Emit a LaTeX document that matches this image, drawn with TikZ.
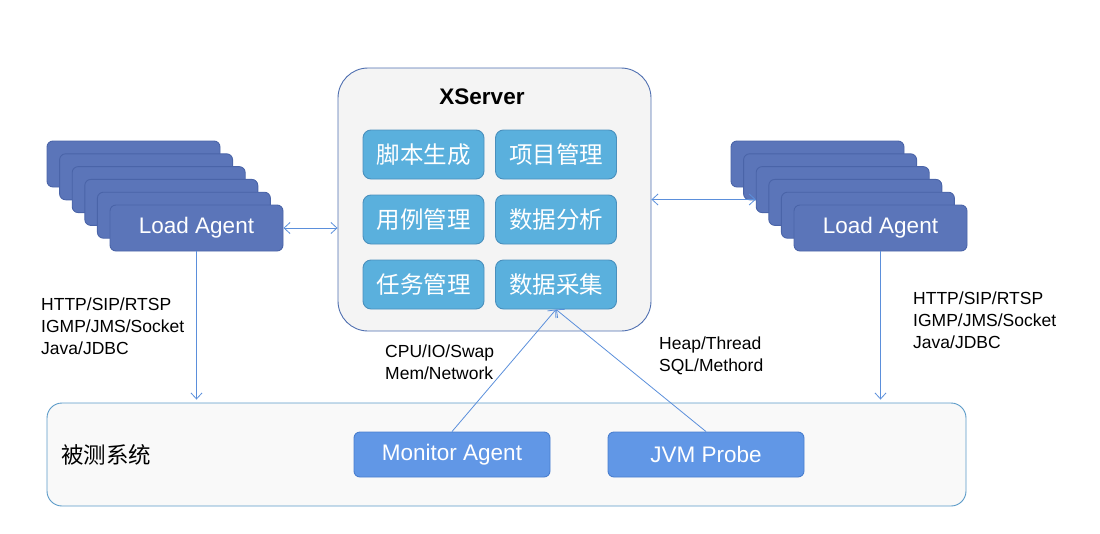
\documentclass[tikz,border=0pt]{standalone}
\usepackage{fontspec}
\setmainfont{Liberation Sans}
\newfontfamily\cjk{Noto Sans CJK SC}
\usetikzlibrary{arrows.meta,positioning}

\definecolor{stackfill}{HTML}{5B75B9}
\definecolor{stackline}{HTML}{4A64A8}
\definecolor{srvfill}{HTML}{F4F4F4}
\definecolor{srvline}{HTML}{4F6FB0}
\definecolor{modfill}{HTML}{5AB0DD}
\definecolor{modline}{HTML}{4A90BD}
\definecolor{sutfill}{HTML}{F9F9F9}
\definecolor{sutline}{HTML}{5A9AC8}
\definecolor{probefill}{HTML}{6197E6}
\definecolor{probeline}{HTML}{4A7FCF}
\definecolor{linkcol}{HTML}{5B8FDB}

\begin{document}
\begin{tikzpicture}[x=1pt, y=-1pt,
  stackbox/.style={draw=stackline, fill=stackfill, line width=0.9pt, rounded corners=6pt, minimum width=173pt, minimum height=46pt, text=white, font=\fontsize{22.5}{26}\selectfont},
  modbox/.style={draw=modline, fill=modfill, line width=0.9pt, rounded corners=8pt, minimum width=121pt, minimum height=49pt, text=white, font=\cjk\fontsize{23.5}{26}\selectfont},
  probebox/.style={draw=probeline, fill=probefill, line width=0.9pt, rounded corners=6pt, minimum width=196pt, minimum height=45pt, text=white, font=\fontsize{22.5}{26}\selectfont},
  lbl/.style={align=left, inner sep=0pt, anchor=west, font=\fontsize{17.5}{22}\selectfont},
  link/.style={draw=linkcol, line width=0.8pt, -{Straight Barb[length=6pt, width=11pt]}},
  twolink/.style={link, {Straight Barb[length=6pt, width=11pt]}-{Straight Barb[length=6pt, width=11pt]}}]
\useasboundingbox (0,0) rectangle (1100,533);

% load agents, left and right stacks
\foreach \i in {0,...,4} {
  \node[stackbox] (la\i) at ({133.5+12.6*\i},{164+12.8*\i}) {};
  \node[stackbox] (ra\i) at ({817.5+12.6*\i},{164+12.8*\i}) {};
}
\node[stackbox] (la5) at (196.5,228) {\raisebox{-2pt}{Load Agent}};
\node[stackbox] (ra5) at (880.5,228) {\raisebox{-2pt}{Load Agent}};

% xserver
\node[draw=srvline, fill=srvfill, line width=0.9pt, rounded corners=30pt, minimum width=313pt, minimum height=263pt] (xs) at (494.5,199.5) {};
\node[font=\bfseries\fontsize{22.5}{26}\selectfont] (xstitle) at (482,97) {XServer};
\node[modbox] (gen) at (423.5,154.5) {脚本生成};
\node[modbox] (proj) at (556,154.5) {项目管理};
\node[modbox] (case) at (423.5,219.5) {用例管理};
\node[modbox] (ana) at (556,219.5) {数据分析};
\node[modbox] (task) at (423.5,284.5) {任务管理};
\node[modbox] (col) at (556,284.5) {数据采集};

% system under test
\node[draw=sutline, fill=sutfill, line width=0.9pt, rounded corners=15pt, minimum width=919pt, minimum height=103pt] (sut) at (506.5,454.5) {};
\node[font=\cjk\fontsize{22.5}{26}\selectfont, anchor=west, inner sep=0pt] (sutlbl) at (61,455) {被测系统};
\node[probebox] (mon) at (452,454.5) {Monitor Agent};
\node[probebox] (jvm) at (706,454.5) {JVM Probe};

% links
\draw[twolink] (la5.east) -- (la5.east -| xs.west);
\draw[twolink] (xs.east) -- (xs.east -| ra2.west);
\draw[link, shorten >=3pt] (la5.south) -- (la5.south |- sut.north);
\draw[link, shorten >=3pt] (ra5.south) -- (ra5.south |- sut.north);
\draw[link] (mon.north) -- (col.south);
\draw[link] (jvm.north) -- (col.south);

\node[lbl] (lproto) at (41,326) {HTTP/SIP/RTSP\\IGMP/JMS/Socket\\Java/JDBC};
\node[lbl] (rproto) at (913,320) {HTTP/SIP/RTSP\\IGMP/JMS/Socket\\Java/JDBC};
\node[lbl] (monlbl) at (385,362) {CPU/IO/Swap\\Mem/Network};
\node[lbl] (jvmlbl) at (659,356) {Heap/Thread\\SQL/Methord};
\end{tikzpicture}
\end{document}
